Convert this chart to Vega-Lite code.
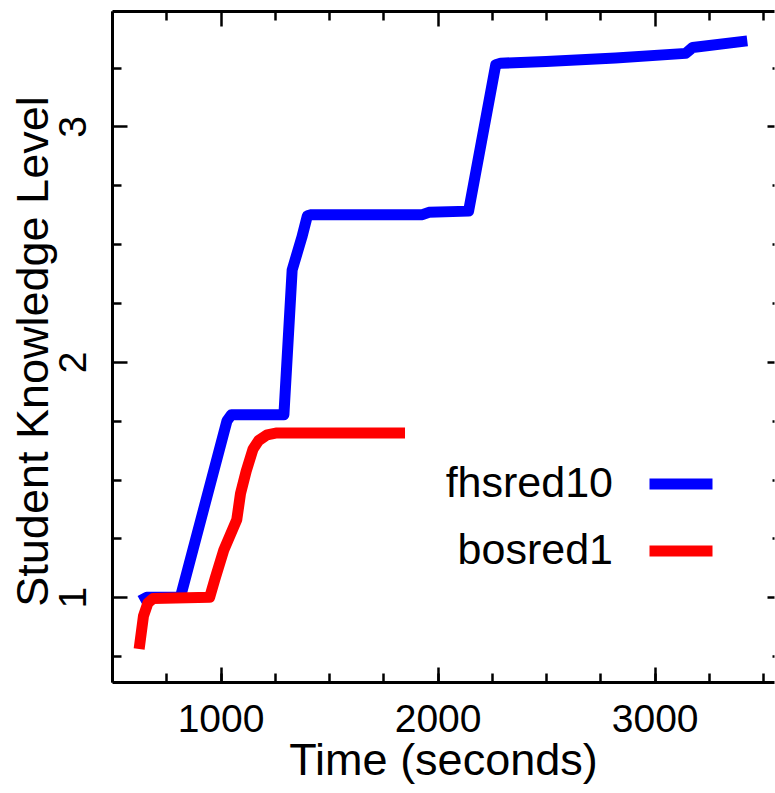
{
  "$schema": "https://vega.github.io/schema/vega-lite/v6.json",
  "width": 662,
  "height": 671,
  "autosize": {"type": "none"},
  "padding": {"left": 112, "top": 11, "right": 1, "bottom": 111},
  "background": "white",
  "config": {
    "view": {"stroke": null},
    "font": "Liberation Sans",
    "axis": {
      "domainColor": "black", "domainWidth": 3, "tickColor": "black", "tickWidth": 2.5,
      "labelColor": "black", "titleColor": "black", "labelFont": "Liberation Sans", "titleFont": "Liberation Sans",
      "titleFontWeight": "normal", "grid": false
    }
  },
  "data": {
    "values": [
      {"series": "fhsred10", "t": 630, "k": 0.985},
      {"series": "fhsred10", "t": 660, "k": 1.0},
      {"series": "fhsred10", "t": 815, "k": 1.0},
      {"series": "fhsred10", "t": 1030, "k": 1.75},
      {"series": "fhsred10", "t": 1050, "k": 1.775},
      {"series": "fhsred10", "t": 1292, "k": 1.775},
      {"series": "fhsred10", "t": 1330, "k": 2.39},
      {"series": "fhsred10", "t": 1375, "k": 2.53},
      {"series": "fhsred10", "t": 1400, "k": 2.62},
      {"series": "fhsred10", "t": 1420, "k": 2.625},
      {"series": "fhsred10", "t": 1930, "k": 2.625},
      {"series": "fhsred10", "t": 1960, "k": 2.635},
      {"series": "fhsred10", "t": 2143, "k": 2.64},
      {"series": "fhsred10", "t": 2268, "k": 3.262},
      {"series": "fhsred10", "t": 2290, "k": 3.268},
      {"series": "fhsred10", "t": 2500, "k": 3.276},
      {"series": "fhsred10", "t": 2820, "k": 3.29},
      {"series": "fhsred10", "t": 3143, "k": 3.31},
      {"series": "fhsred10", "t": 3175, "k": 3.335},
      {"series": "fhsred10", "t": 3427, "k": 3.363},
      {"series": "bosred1", "t": 625, "k": 0.78},
      {"series": "bosred1", "t": 645, "k": 0.92},
      {"series": "bosred1", "t": 665, "k": 0.975},
      {"series": "bosred1", "t": 690, "k": 0.995},
      {"series": "bosred1", "t": 950, "k": 1.0},
      {"series": "bosred1", "t": 975, "k": 1.08},
      {"series": "bosred1", "t": 1015, "k": 1.2},
      {"series": "bosred1", "t": 1075, "k": 1.33},
      {"series": "bosred1", "t": 1092, "k": 1.44},
      {"series": "bosred1", "t": 1118, "k": 1.535},
      {"series": "bosred1", "t": 1150, "k": 1.63},
      {"series": "bosred1", "t": 1175, "k": 1.665},
      {"series": "bosred1", "t": 1215, "k": 1.69},
      {"series": "bosred1", "t": 1260, "k": 1.698},
      {"series": "bosred1", "t": 1850, "k": 1.698}
    ]
  },
  "resolve": {"axis": {"x": "independent", "y": "independent"}},
  "layer": [
    {
      "mark": {"type": "line", "opacity": 0},
      "encoding": {
        "x": {"field": "t", "type": "quantitative", "scale": {"domain": [500, 3550], "nice": false, "zero": false},
          "axis": {"orient": "bottom", "values": [500, 750, 1000, 1250, 1500, 1750, 2000, 2250, 2500, 2750, 3000, 3250, 3500], "tickSize": -9, "labels": false, "domain": false, "title": null}},
        "y": {"field": "k", "type": "quantitative", "scale": {"domain": [0.64, 3.49], "nice": false, "zero": false},
          "axis": {"orient": "left", "values": [0.75, 1.25, 1.5, 1.75, 2.25, 2.5, 2.75, 3.25], "tickSize": -9, "labels": false, "domain": false, "title": null}}
      }
    },
    {
      "mark": {"type": "line", "opacity": 0},
      "encoding": {
        "x": {"field": "t", "type": "quantitative", "scale": {"domain": [500, 3550], "nice": false, "zero": false},
          "axis": {"orient": "top", "values": [1000, 2000, 3000], "tickSize": -15, "labels": false, "domain": true, "title": null}},
        "y": {"field": "k", "type": "quantitative", "scale": {"domain": [0.64, 3.49], "nice": false, "zero": false},
          "axis": {"orient": "right", "values": [1, 2, 3], "tickSize": -7, "labels": false, "domain": false, "title": null}}
      }
    },
    {
      "mark": {"type": "line", "opacity": 0},
      "encoding": {
        "x": {"field": "t", "type": "quantitative", "scale": {"domain": [500, 3550], "nice": false, "zero": false},
          "axis": {"orient": "top", "values": [500, 750, 1250, 1500, 1750, 2250, 2500, 2750, 3250, 3500], "tickSize": -9, "labels": false, "domain": false, "title": null}},
        "y": {"field": "k", "type": "quantitative", "scale": {"domain": [0.64, 3.49], "nice": false, "zero": false},
          "axis": {"orient": "right", "values": [0.75, 1.25, 1.5, 1.75, 2.25, 2.5, 2.75, 3.25], "tickSize": -2, "labels": false, "domain": false, "title": null}}
      }
    },
    {
      "mark": {"type": "line", "strokeWidth": 11, "strokeCap": "butt", "strokeJoin": "round"},
      "encoding": {
        "x": {"field": "t", "type": "quantitative", "scale": {"domain": [500, 3550], "nice": false, "zero": false},
          "axis": {"orient": "bottom", "values": [1000, 2000, 3000], "format": "d", "tickSize": -15, "labelPadding": 33, "labelFontSize": 39, "labelBaseline": "top",
            "title": "Time (seconds)", "titleFontSize": 45, "titleBaseline": "alphabetic", "titleY": 92}},
        "y": {"field": "k", "type": "quantitative", "scale": {"domain": [0.64, 3.49], "nice": false, "zero": false},
          "axis": {"orient": "left", "values": [1, 2, 3], "format": "d", "tickSize": -15, "labelPadding": 42, "labelFontSize": 39, "labelAngle": -90, "labelAlign": "center", "labelBaseline": "alphabetic",
            "title": "Student Knowledge Level", "titleFontSize": 45, "titleBaseline": "alphabetic", "titleAlign": "center", "titleAngle": -90, "titleX": -65, "titleY": 340}},
        "color": {"field": "series", "type": "nominal",
          "scale": {"domain": ["fhsred10", "bosred1"], "range": ["#0000ff", "#ff0000"]},
          "legend": {"orient": "none", "legendX": 532, "legendY": 436, "title": null, "symbolType": "stroke", "symbolSize": 3969, "symbolStrokeWidth": 11,
            "labelFontSize": 43, "labelFont": "Liberation Sans", "labelColor": "black", "labelAlign": "right", "labelOffset": -105, "rowPadding": 8, "padding": 0, "labelLimit": 0}}
      }
    }
  ]
}
